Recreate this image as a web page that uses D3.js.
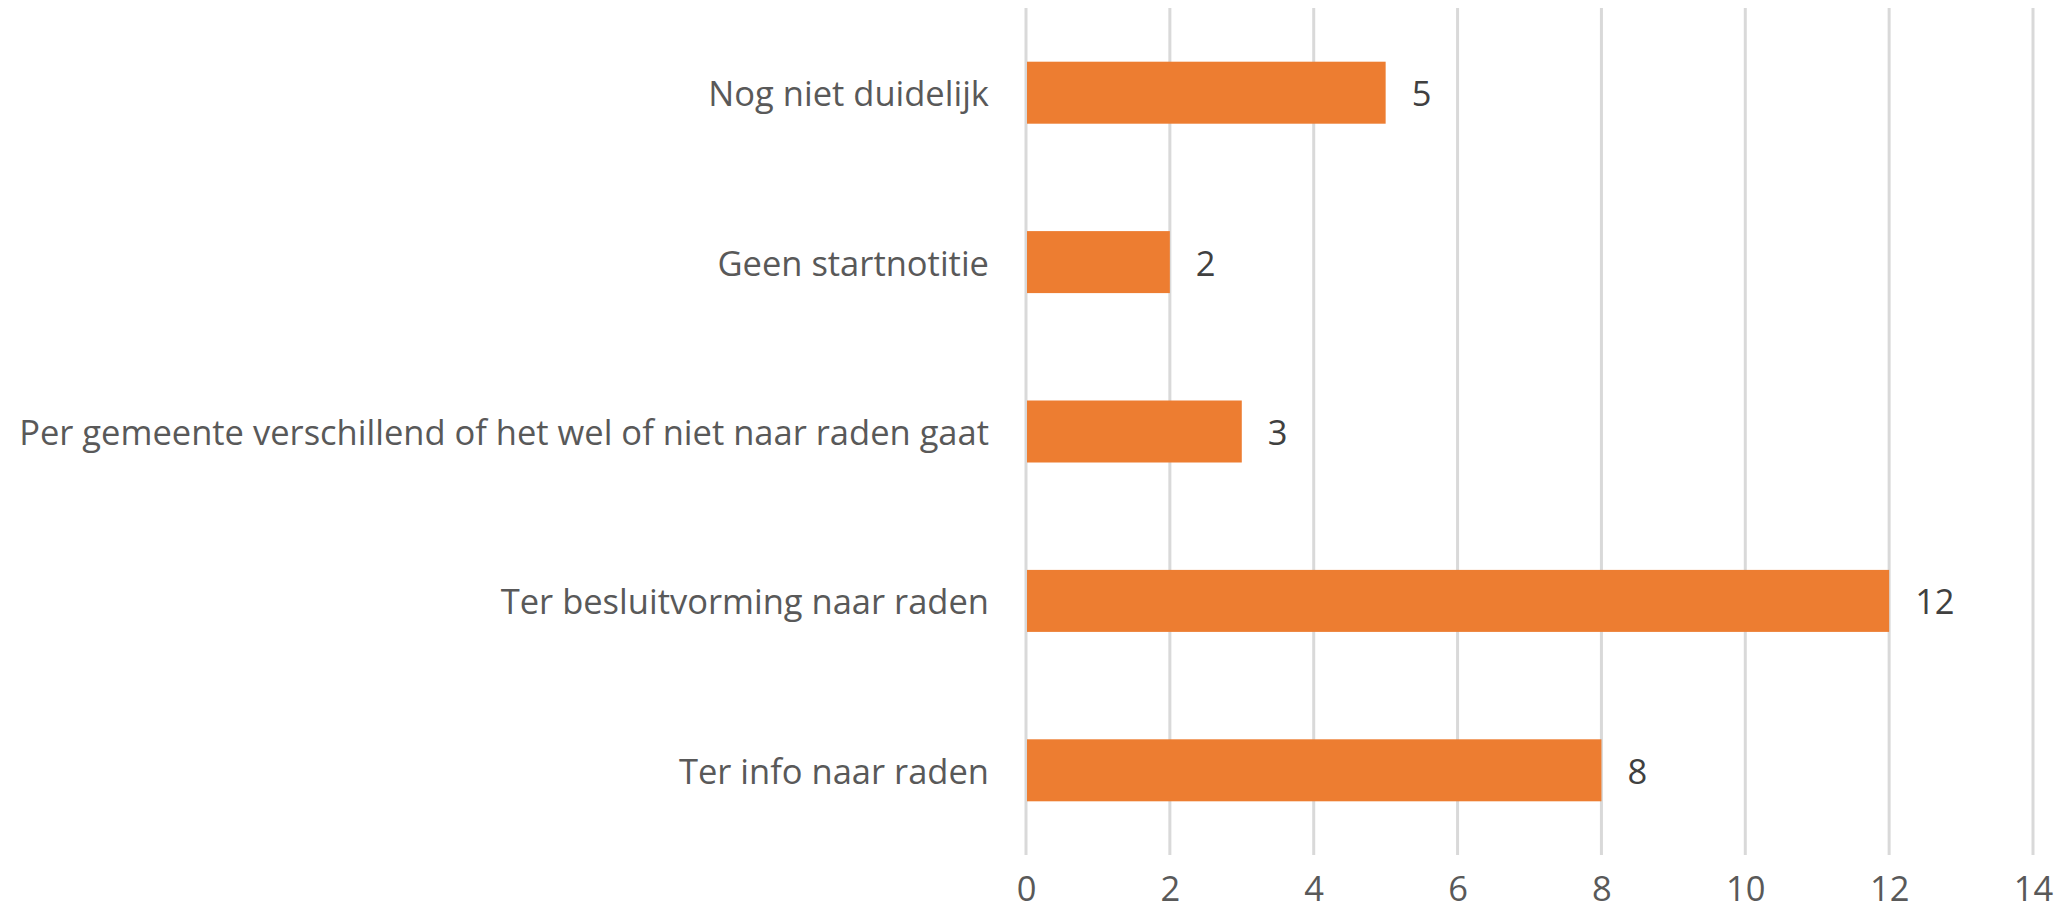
<!DOCTYPE html>
<html>
<head>
<meta charset="utf-8">
<script src="https://cdn.jsdelivr.net/npm/d3@7"></script>
<style>
	body { margin: 0; background: #fff; }
	text { font-family: "Open Sans", "Noto Sans", sans-serif; }
</style>
</head>
<body>
<svg id="chart"></svg>
<script>
// data
const categories = [
	"Nog niet duidelijk",
	"Geen startnotitie",
	"Per gemeente verschillend of het wel of niet naar raden gaat",
	"Ter besluitvorming naar raden",
	"Ter info naar raden"
];
const counts = [5, 2, 3, 12, 8];
const xTicks = [0, 2, 4, 6, 8, 10, 12, 14];

const width = 2062,
	height = 920,
	margin = {top: 8, right: 29, bottom: 65, left: 1026},
	barColor = "#ED7D31",
	fontSize = 34.5;

const svg = d3.select("#chart").attr("width", width).attr("height", height);

const x = d3.scaleLinear().domain([0, 14]).range([margin.left, width - margin.right]);
const y = d3.scaleBand().domain(categories).range([margin.top, height - margin.bottom]).paddingInner(0.634).paddingOuter(0.317);

// vertical gridlines
svg.append("g").attr("class", "grid")
	.selectAll("line")
	.data(xTicks)
	.enter().append("line")
	.attr("x1", d => x(d)).attr("x2", d => x(d))
	.attr("y1", margin.top).attr("y2", height - margin.bottom)
	.attr("stroke", "#d9d9d9")
	.attr("stroke-width", 3);

// x tick labels
const xAxis = d3.axisBottom(x).tickValues(xTicks).tickSize(0).tickPadding(0);
const gx = svg.append("g")
	.attr("transform", "translate(0," + (height - margin.bottom) + ")")
	.call(xAxis);
gx.select(".domain").remove();
gx.selectAll("text")
	.attr("dy", null)
	.attr("y", 37)
	.attr("dominant-baseline", "middle")
	.attr("font-size", fontSize)
	.attr("fill", "#595959");

// bars
svg.append("g").attr("class", "bars")
	.selectAll("rect")
	.data(categories)
	.enter().append("rect")
	.attr("x", x(0) + 1)
	.attr("y", d => y(d))
	.attr("width", (d, i) => x(counts[i]) - x(0) - 1)
	.attr("height", y.bandwidth())
	.attr("fill", barColor);

// value labels
svg.append("g").attr("class", "values")
	.selectAll("text")
	.data(categories)
	.enter().append("text")
	.attr("x", (d, i) => x(counts[i]) + 26)
	.attr("y", d => y(d) + y.bandwidth() / 2)
	.attr("dominant-baseline", "central")
	.attr("font-size", fontSize)
	.attr("fill", "#404040")
	.text((d, i) => counts[i]);

// category labels
const yAxis = d3.axisLeft(y).tickSize(0).tickPadding(37);
const gy = svg.append("g")
	.attr("transform", "translate(" + margin.left + ",0)")
	.call(yAxis);
gy.select(".domain").remove();
gy.selectAll("text")
	.attr("dy", null)
	.attr("dominant-baseline", "central")
	.attr("font-size", fontSize)
	.attr("fill", "#595959");
</script>
</body>
</html>
